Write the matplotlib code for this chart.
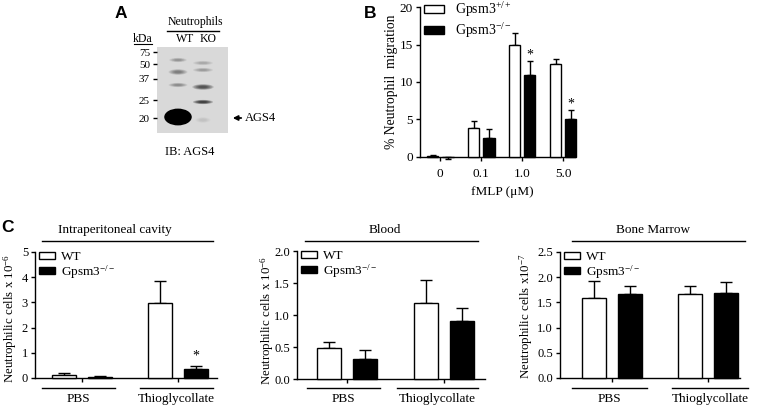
import numpy as np
import matplotlib
matplotlib.use("Agg")
import matplotlib.pyplot as plt
from matplotlib.patches import Ellipse, Patch, FancyArrowPatch
from matplotlib.lines import Line2D
from matplotlib.transforms import Affine2D

plt.rcParams['font.family'] = ['Liberation Serif', 'DejaVu Serif']
plt.rcParams['mathtext.fontset'] = 'custom'
plt.rcParams['mathtext.rm'] = 'Liberation Serif'
plt.rcParams['mathtext.it'] = 'Liberation Serif:italic'
plt.rcParams['mathtext.bf'] = 'Liberation Serif:bold'

W, H = 757, 407

# ---- A: western blot (IB: AGS4) ----
marker_kda = ['75', '50', '37', '25', '20']
marker_pos = [5, 17, 32, 53, 71]            # migration from top of blot
lanes = ['WT', 'KO']
band_lane = [0, 0, 0, 0, 1, 1, 1, 1, 1]
band_pos = [13, 25, 38, 70, 16, 23, 40, 55, 73]
band_strength = [0.3, 0.4, 0.35, 1.0, 0.22, 0.28, 0.6, 0.7, 0.1]
band_width = [0.7, 0.75, 0.75, 1.1, 0.8, 0.8, 0.85, 0.8, 0.6]
band_height = [3, 4, 3, 12, 3, 3, 4, 3, 4]

# ---- B: neutrophil migration ----
fmlp = ['0', '0.1', '1.0', '5.0']
mig_wt = [0.05, 3.9, 15.0, 12.4]
mig_wt_err = [0.12, 0.9, 1.5, 0.66]
mig_ko = [-0.05, 2.55, 11.0, 5.0]
mig_ko_err = [0.25, 1.15, 1.75, 1.2]
mig_star = [np.nan, np.nan, 13.6, 7.0]

# ---- C: neutrophil counts ----
groups = ['PBS', 'Thioglycollate']
ip_wt, ip_wt_err = [0.12, 2.99], [0.07, 0.87]
ip_ko, ip_ko_err = [0.05, 0.36], [0.02, 0.10]
ip_star = [np.nan, 0.88]
blood_wt, blood_wt_err = [0.49, 1.19], [0.09, 0.36]
blood_ko, blood_ko_err = [0.32, 0.91], [0.13, 0.20]
bm_wt, bm_wt_err = [1.59, 1.67], [0.33, 0.15]
bm_ko, bm_ko_err = [1.66, 1.69], [0.16, 0.21]

fig = plt.figure(figsize=(W / 100, H / 100), dpi=100)
T = Affine2D().scale(1 / W, -1 / H).translate(0, 1) + fig.transFigure


def rect(l, t, r, b):
    return [l / W, 1 - b / H, (r - l) / W, (b - t) / H]


def hline(x0, x1, y, lw=1.0):
    fig.add_artist(Line2D([x0, x1], [y, y], transform=T, color='black', lw=lw))


def txt(x, y, s, size, **kw):
    kw.setdefault('ha', 'center')
    kw.setdefault('va', 'center')
    fig.text(x, y, s, transform=T, fontsize=size, **kw)


def prism(ax, labelsize):
    for s in ('top', 'right'):
        ax.spines[s].set_visible(False)
    for s in ('left', 'bottom'):
        ax.spines[s].set_linewidth(1.0)
    ax.tick_params(direction='out', length=3, width=1, labelsize=labelsize, pad=2)


def draw_bars(ax, wt, wt_err, ko, ko_err, off, width, cap):
    x = np.arange(len(wt))
    for vals, errs, fc, sign in ((wt, wt_err, 'white', -1), (ko, ko_err, 'black', 1)):
        vals = np.asarray(vals, float)
        errs = np.asarray(errs, float)
        lo = np.where(vals < 0, errs, 0)
        hi = np.where(vals < 0, 0, errs)
        ax.bar(x + sign * off, vals, width, color=fc, edgecolor='black',
               linewidth=1, zorder=3, clip_on=False)
        ax.errorbar(x + sign * off, vals, yerr=[lo, hi], fmt='none', ecolor='black',
                    elinewidth=1, capsize=cap, capthick=1, zorder=2, clip_on=False)


def stars(ax, xs, ys, size):
    for xv, yv in zip(xs, ys):
        if not np.isnan(yv):
            ax.text(xv, yv, '*', ha='center', va='center', fontsize=size)


# ---------------- A ----------------
axA = fig.add_axes(rect(157, 47, 228, 133))
axA.set_facecolor('#d9d9d9')
axA.set_xlim(-0.84, 2.0)
axA.set_ylim(86, 0)
for lane, pos, s, w, h in zip(band_lane, band_pos, band_strength, band_width, band_height):
    a = 1 - (1 - s) ** (1 / 5)
    for k in range(5):
        f = 1.0 - 0.15 * k
        axA.add_patch(Ellipse((lane, pos), w * f, h * f * 1.4,
                              facecolor='black', edgecolor='none', alpha=a))
axA.set_xticks([])
axA.set_yticks(marker_pos)
axA.set_yticklabels(marker_kda, fontsize=8)
axA.tick_params(axis='y', length=3, width=1, pad=2)
for s in axA.spines.values():
    s.set_visible(False)

txt(121, 13, 'A', 12.5, family='Liberation Sans', weight='bold')
txt(195, 22, 'Neutrophils', 8.5)
hline(167, 219, 31)
txt(185, 39, lanes[0], 8.5)
txt(208.5, 39, lanes[1], 8.5)
txt(143, 39, 'kDa', 8.5)
hline(134, 152, 44, lw=0.8)
fig.add_artist(FancyArrowPatch((244, 118), (230, 118), transform=T, arrowstyle='-|>',
                               mutation_scale=7, lw=1.3, color='black'))
txt(245, 118, 'AGS4', 9, ha='left')
txt(190, 152, 'IB: AGS4', 9)

# ---------------- B ----------------
axB = fig.add_axes(rect(420, 7.3, 575, 156.7))
prism(axB, 9.5)
draw_bars(axB, mig_wt, mig_wt_err, mig_ko, mig_ko_err, 0.185, 0.28, 2.5)
xb = np.arange(len(fmlp))
stars(axB, xb + 0.185, mig_star, 10)
axB.set_xlim(-0.495, 3.29)
axB.set_ylim(0, 20)
axB.set_yticks([0, 5, 10, 15, 20])
axB.set_xticks(xb)
axB.set_xticklabels(fmlp)
axB.tick_params(axis='x', pad=5)
txt(391, 82, '% Neutrophil  migration', 9.8, rotation=90)
txt(502, 192, 'fMLP (\u03bcM)', 9.5)
txt(370, 13, 'B', 12.5, family='Liberation Sans', weight='bold')
fig.legend(handles=[Patch(facecolor='white', edgecolor='black', lw=1),
                    Patch(facecolor='black', edgecolor='black', lw=1)],
           labels=['Gpsm3$^{+/+}$', 'Gpsm3$^{-/-}$'],
           loc='upper left', bbox_to_anchor=(424, 0), bbox_transform=T,
           frameon=False, fontsize=10, handlelength=1.45, handleheight=0.6,
           handletextpad=0.75, labelspacing=0.15, borderpad=0, borderaxespad=0)

# ---------------- C ----------------
panels = [
    dict(box=(35, 252, 217, 378), xlim=(-0.49, 1.406), ylim=5, step=1, fmt='{:.0f}',
         wt=ip_wt, wte=ip_wt_err, ko=ip_ko, koe=ip_ko_err, star=ip_star,
         title='Intraperitoneal cavity', tx=115, tline=(42, 213),
         glines=[(42, 115), (140, 213)], ylab='Neutrophilic cells x 10$^{-6}$',
         ylx=10, yly=318),
    dict(box=(297, 251, 485, 379), xlim=(-0.515, 1.423), ylim=2.0, step=0.5, fmt='{:.1f}',
         wt=blood_wt, wte=blood_wt_err, ko=blood_ko, koe=blood_ko_err, star=None,
         title='Blood', tx=385, tline=(305, 478),
         glines=[(307, 380), (397, 478)], ylab='Neutrophilic cells x 10$^{-6}$',
         ylx=267, yly=320),
    dict(box=(560, 252, 740, 378), xlim=(-0.542, 1.333), ylim=2.5, step=0.5, fmt='{:.1f}',
         wt=bm_wt, wte=bm_wt_err, ko=bm_ko, koe=bm_ko_err, star=None,
         title='Bone Marrow', tx=653, tline=(572, 745),
         glines=[(572, 647), (672, 748)], ylab='Neutrophilic cells x10$^{-7}$',
         ylx=526, yly=316),
]

for p in panels:
    l, t, r, b = p['box']
    ax = fig.add_axes(rect(l, t, r, b))
    prism(ax, 9)
    draw_bars(ax, p['wt'], p['wte'], p['ko'], p['koe'], 0.1875, 0.25, 4.3)
    if p['star'] is not None:
        stars(ax, np.arange(len(groups)) + 0.1875, p['star'], 10)
    ax.set_xlim(*p['xlim'])
    ax.set_ylim(0, p['ylim'])
    yt = np.arange(0, p['ylim'] + 1e-9, p['step'])
    ax.set_yticks(yt)
    ax.set_yticklabels([p['fmt'].format(v) for v in yt])
    ax.set_xticks(np.arange(len(groups)))
    ax.set_xticklabels([])
    txt(p['tx'], 230, p['title'], 9.5)
    hline(p['tline'][0], p['tline'][1], 241)
    for (g0, g1), name in zip(p['glines'], groups):
        hline(g0, g1, 388)
        txt((g0 + g1) / 2, 399, name, 9.5)
    txt(p['ylx'], p['yly'], p['ylab'], 9.3, rotation=90)
    fig.legend(handles=[Patch(facecolor='white', edgecolor='black', lw=1),
                        Patch(facecolor='black', edgecolor='black', lw=1)],
               labels=['WT', 'Gpsm3$^{-/-}$'],
               loc='upper left', bbox_to_anchor=(l + 4, t - 1), bbox_transform=T,
               frameon=False, fontsize=9.5, handlelength=1.25, handleheight=0.45,
               handletextpad=0.45, labelspacing=0.02, borderpad=0, borderaxespad=0)

txt(7, 228, 'C', 12.5, family='Liberation Sans', weight='bold')

fig.savefig('out.png', dpi=100)
